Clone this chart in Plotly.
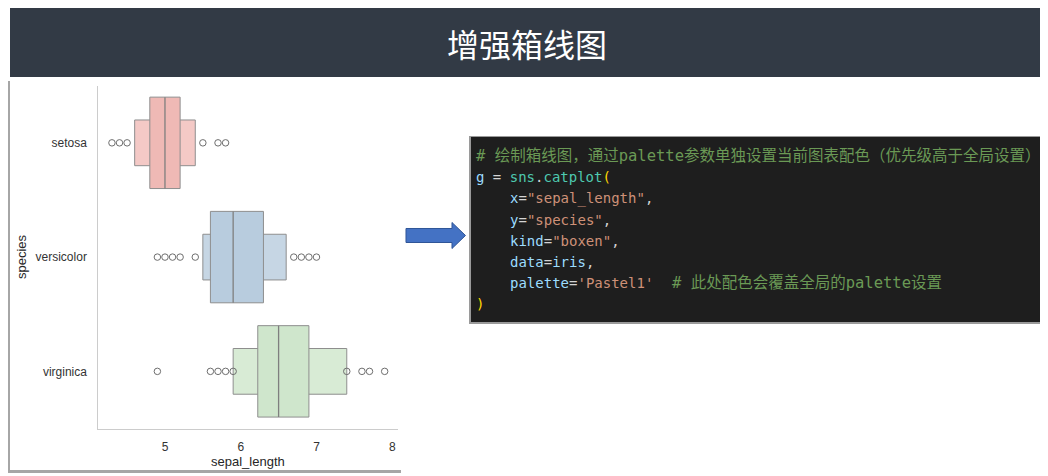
import plotly.graph_objects as go

# ---------------- data ----------------
species = ["setosa", "versicolor", "virginica"]
medians = [5.0, 5.9, 6.5]
q1 = [4.8, 5.6, 6.225]          # level-1 box (quartiles)
q3 = [5.2, 6.3, 6.9]
e1 = [4.6, 5.5, 5.9]            # level-2 box (eighths)
e7 = [5.4, 6.6, 7.4]
outliers = [
    [4.3, 4.4, 4.5, 5.5, 5.7, 5.8],
    [4.9, 5.0, 5.1, 5.2, 5.4, 6.7, 6.8, 6.9, 7.0],
    [4.9, 5.6, 5.7, 5.8, 5.9, 7.4, 7.6, 7.7, 7.9],
]
x_ticks = [5, 6, 7, 8]
inner_colors = ["#EFB9B5", "#B8CCDE", "#CFE6CC"]
outer_colors = ["#F4C9C6", "#C6D6E4", "#D8EBD5"]
inner_half = 0.4
outer_half = 0.2

# the page body adds an 8px margin; the figure is sized/offset to compensate
OFF = 8
W, H = 1048 - OFF, 476 - OFF
def PX(x):
    return (x - OFF) / W
def PY(y):
    return 1 - (y - OFF) / H

EDGE = "#8E8E8E"
fig = go.Figure()

for i, sp in enumerate(species):
    fig.add_trace(go.Scatter(
        x=[e1[i], e7[i], e7[i], e1[i], e1[i]],
        y=[i - outer_half, i - outer_half, i + outer_half, i + outer_half, i - outer_half],
        mode="lines", fill="toself", fillcolor=outer_colors[i],
        line=dict(color=EDGE, width=1), hoverinfo="skip", showlegend=False))
    fig.add_trace(go.Scatter(
        x=[q1[i], q3[i], q3[i], q1[i], q1[i]],
        y=[i - inner_half, i - inner_half, i + inner_half, i + inner_half, i - inner_half],
        mode="lines", fill="toself", fillcolor=inner_colors[i],
        line=dict(color=EDGE, width=1), hoverinfo="skip", showlegend=False))
    fig.add_trace(go.Scatter(
        x=[medians[i], medians[i]], y=[i - inner_half, i + inner_half],
        mode="lines", line=dict(color="#7F7F7F", width=1.3),
        hoverinfo="skip", showlegend=False))
    fig.add_trace(go.Scatter(
        x=outliers[i], y=[i] * len(outliers[i]), mode="markers",
        marker=dict(symbol="circle-open", size=6.5, color="#6E6E6E", line=dict(width=1)),
        hoverinfo="skip", showlegend=False))

shapes = []
shapes.append(dict(type="rect", xref="paper", yref="paper",
                   x0=PX(10), x1=PX(1042), y0=PY(77), y1=PY(7),
                   fillcolor="#323A45", line=dict(width=0), layer="below"))
shapes.append(dict(type="rect", xref="paper", yref="paper",
                   x0=PX(7), x1=PX(401), y0=PY(473), y1=PY(81),
                   fillcolor="#A6A6A6", line=dict(width=0), layer="below"))
shapes.append(dict(type="rect", xref="paper", yref="paper",
                   x0=PX(10), x1=PX(404), y0=PY(470), y1=PY(78),
                   fillcolor="#FFFFFF", line=dict(width=0), layer="below"))
shapes.append(dict(type="rect", xref="paper", yref="paper",
                   x0=PX(469), x1=PX(1042), y0=PY(324), y1=PY(136),
                   fillcolor="#9A9A9A", line=dict(width=0), layer="below"))
shapes.append(dict(type="rect", xref="paper", yref="paper",
                   x0=PX(471), x1=PX(1041), y0=PY(322), y1=PY(137),
                   fillcolor="#1E1E1E", line=dict(width=0), layer="below"))
ax = [406, 452, 452, 465.5, 452, 452, 406]
ay = [228.5, 228.5, 222.5, 235.5, 248.5, 242.5, 242.5]
path = "M " + " L ".join(f"{PX(a):.5f},{PY(b):.5f}" for a, b in zip(ax, ay)) + " Z"
shapes.append(dict(type="path", xref="paper", yref="paper", path=path,
                   fillcolor="#4472C4", line=dict(color="#2F5597", width=1)))

annotations = []
annotations.append(dict(text="增强箱线图", x=PX(527), y=PY(43), xref="paper", yref="paper",
                        xanchor="center", yanchor="middle", showarrow=False,
                        font=dict(family="Noto Sans CJK SC", size=32, color="#FFFFFF")))
annotations.append(dict(text="sepal_length", x=PX(248), y=PY(461), xref="paper", yref="paper",
                        xanchor="center", yanchor="middle", showarrow=False,
                        font=dict(family="Liberation Sans, Arial", size=13, color="#262626")))
annotations.append(dict(text="species", x=PX(21), y=PY(257), xref="paper", yref="paper",
                        xanchor="center", yanchor="middle", showarrow=False, textangle=-90,
                        font=dict(family="Liberation Sans, Arial", size=13, color="#262626")))

BLUE, WHITE, TEAL, GOLD, ORANGE, GREEN = "#9CDCFE", "#D4D4D4", "#4EC9B0", "#FFD700", "#CE9178", "#6A9955"
NB = "\u00a0"
code_lines = [
    (474, [("g", BLUE), (NB + "=" + NB, WHITE), ("sns", TEAL), (".", WHITE), ("catplot", TEAL), ("(", GOLD)]),
    (508, [("x", BLUE), ("=", WHITE), ('"sepal_length"', ORANGE), (",", WHITE)]),
    (508, [("y", BLUE), ("=", WHITE), ('"species"', ORANGE), (",", WHITE)]),
    (508, [("kind", BLUE), ("=", WHITE), ('"boxen"', ORANGE), (",", WHITE)]),
    (508, [("data", BLUE), ("=", WHITE), ("iris", BLUE), (",", WHITE)]),
    (508, [("palette", BLUE), ("=", WHITE), ("'Pastel1'", ORANGE)]),
    (474, [(")", GOLD)]),
]
line_y = [177, 198, 220, 241, 262, 283, 304]
MONO = "DejaVu Sans Mono, Noto Sans CJK SC"
for (xi, toks), yy in zip(code_lines, line_y):
    txt = "".join(f'<span style="color:{c}">{t}</span>' for t, c in toks)
    annotations.append(dict(text=txt, x=PX(xi), y=PY(yy), xref="paper", yref="paper",
                            xanchor="left", yanchor="middle", showarrow=False,
                            font=dict(family=MONO, size=14, color=WHITE)))
comments = [
    (474, 156, "#" + NB + "绘制箱线图，通过palette参数单独设置当前图表配色（优先级高于全局设置）"),
    (670, 283, "#" + NB + "此处配色会覆盖全局的palette设置"),
]
for xi, yy, t in comments:
    annotations.append(dict(text=t, x=PX(xi), y=PY(yy), xref="paper", yref="paper",
                            xanchor="left", yanchor="middle", showarrow=False,
                            font=dict(family=MONO, size=15.5, color=GREEN)))

fig.update_layout(
    width=W, height=H,
    margin=dict(l=0, r=0, t=0, b=0),
    paper_bgcolor="#FFFFFF", plot_bgcolor="rgba(0,0,0,0)",
    shapes=shapes, annotations=annotations,
    xaxis=dict(domain=[PX(98.3), PX(398.3)], range=[4.12, 8.08],
               tickvals=x_ticks, ticktext=[str(v) for v in x_ticks],
               showgrid=False, zeroline=False, showline=True, linecolor="#CCCCCC", linewidth=1,
               ticks="", ticklabelstandoff=7, automargin=False,
               tickfont=dict(family="Liberation Sans, Arial", size=12, color="#333333")),
    yaxis=dict(domain=[PY(428.5), PY(85.7)], range=[2.5, -0.5],
               tickvals=list(range(len(species))), ticktext=species,
               showgrid=False, zeroline=False, showline=True, linecolor="#CCCCCC", linewidth=1,
               ticks="", ticklabelstandoff=8, automargin=False,
               tickfont=dict(family="Liberation Sans, Arial", size=12, color="#333333")),
    showlegend=False,
)

fig.write_html("out.html")
